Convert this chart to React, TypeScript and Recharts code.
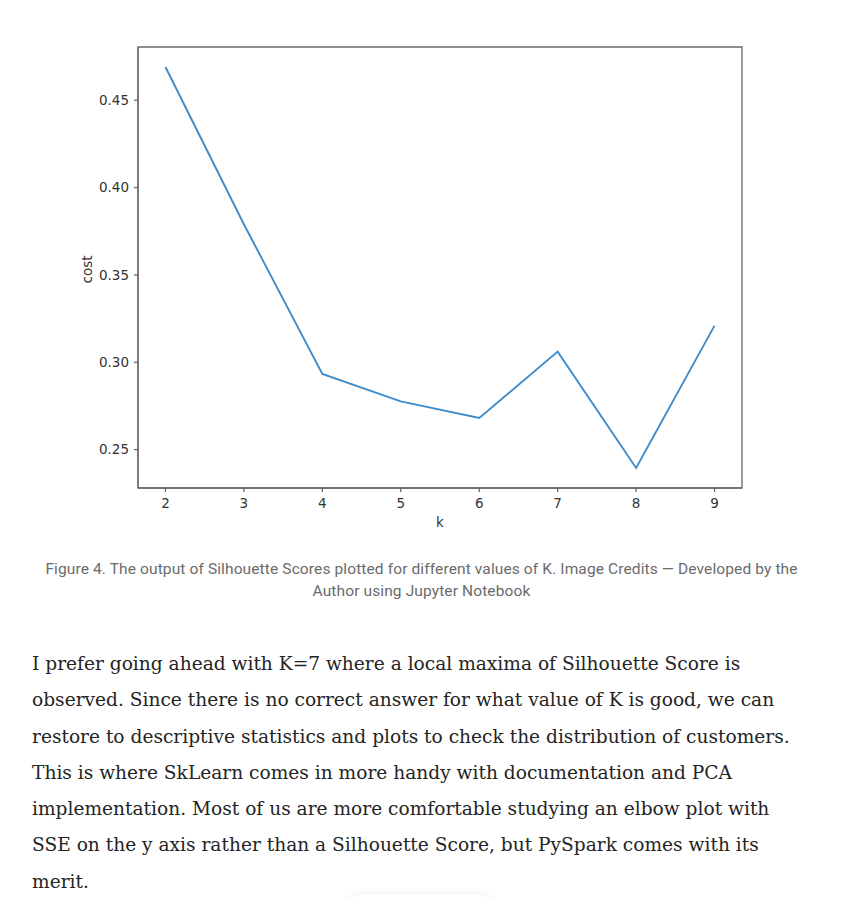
import React from 'react';
import { LineChart, Line, XAxis, YAxis, ReferenceArea } from 'recharts';

const kValues = [2, 3, 4, 5, 6, 7, 8, 9];
const scores = [0.469, 0.379, 0.2933, 0.2776, 0.2681, 0.3061, 0.2395, 0.321];
const yTicks = [0.25, 0.3, 0.35, 0.4, 0.45];
const xTicks = [2, 3, 4, 5, 6, 7, 8, 9];

const captionLines = [
  'Figure 4. The output of Silhouette Scores plotted for different values of K. Image Credits \u2014 Developed by the',
  'Author using Jupyter Notebook',
];

const paragraphLines = [
  'I prefer going ahead with K=7 where a local maxima of Silhouette Score is',
  'observed. Since there is no correct answer for what value of K is good, we can',
  'restore to descriptive statistics and plots to check the distribution of customers.',
  'This is where SkLearn comes in more handy with documentation and PCA',
  'implementation. Most of us are more comfortable studying an elbow plot with',
  'SSE on the y axis rather than a Silhouette Score, but PySpark comes with its',
  'merit.',
];

const data = kValues.map((k, i) => ({ k, score: scores[i] }));

const pad = (lo: number, hi: number): [number, number] => {
  const r = hi - lo;
  return [lo - 0.05 * r, hi + 0.05 * r];
};
const xDomain = pad(Math.min(...kValues), Math.max(...kValues));
const yDomain = pad(Math.min(...scores), Math.max(...scores));

const SPINE = '#6a6a6a';
const TICK_TEXT = { fill: '#333', fontSize: 13.5, fontFamily: 'DejaVu Sans' };

export default function App() {
  return (
    <div
      style={{
        position: 'relative',
        width: 843,
        height: 906,
        margin: -8,
        background: '#fff',
        overflow: 'hidden',
      }}
    >
      <div style={{ position: 'absolute', left: 0, top: 0 }}>
        <LineChart
          width={760}
          height={540}
          data={data}
          margin={{ top: 47, left: 78, right: 18, bottom: 22 }}
        >
          <ReferenceArea
            x1={xDomain[0]}
            x2={xDomain[1]}
            y1={yDomain[0]}
            y2={yDomain[1]}
            fill="none"
            fillOpacity={0}
            stroke={SPINE}
            strokeWidth={1.3}
            ifOverflow="visible"
          />
          <XAxis
            dataKey="k"
            type="number"
            domain={xDomain}
            ticks={xTicks}
            allowDataOverflow
            height={30}
            tickSize={4}
            tickMargin={6}
            stroke={SPINE}
            strokeWidth={1.3}
            tick={TICK_TEXT}
            label={(props: any) => {
              const vb = props.viewBox;
              return (
                <text
                  x={vb.x + vb.width / 2}
                  y={vb.y + 39}
                  textAnchor="middle"
                  fill="#333"
                  fontSize={13.5}
                  fontFamily="DejaVu Sans"
                >
                  k
                </text>
              );
            }}
          />
          <YAxis
            type="number"
            domain={yDomain}
            ticks={yTicks}
            allowDataOverflow
            width={60}
            tickSize={4}
            tickMargin={5}
            stroke={SPINE}
            strokeWidth={1.3}
            tick={TICK_TEXT}
            tickFormatter={(v: number) => v.toFixed(2)}
            label={(props: any) => {
              const vb = props.viewBox;
              const x = vb.x + 9;
              const y = vb.y + vb.height / 2 + 2;
              return (
                <text
                  x={x}
                  y={y}
                  transform={`rotate(-90, ${x}, ${y})`}
                  textAnchor="middle"
                  dominantBaseline="central"
                  fill="#333"
                  fontSize={13.5}
                  fontFamily="DejaVu Sans"
                >
                  cost
                </text>
              );
            }}
          />
          <Line
            type="linear"
            dataKey="score"
            stroke="#3f8ccb"
            strokeWidth={1.9}
            dot={false}
            activeDot={false}
            isAnimationActive={false}
          />
        </LineChart>
      </div>

      <div
        style={{
          position: 'absolute',
          left: 0,
          top: 558,
          width: 843,
          textAlign: 'center',
          fontFamily: 'Roboto',
          fontSize: 15.5,
          letterSpacing: '0.12px',
          lineHeight: '22px',
          color: '#6b6b6b',
        }}
      >
        {captionLines.map((l, i) => (
          <div key={i} style={{ whiteSpace: 'nowrap' }}>
            {l}
          </div>
        ))}
      </div>

      <div
        style={{
          position: 'absolute',
          left: 32,
          top: 646,
          fontFamily: '"DejaVu Serif"',
          fontSize: 18.6,
          lineHeight: '36.3px',
          color: '#242424',
        }}
      >
        {paragraphLines.map((l, i) => (
          <div key={i} style={{ whiteSpace: 'nowrap' }}>
            {l}
          </div>
        ))}
      </div>

      <div
        style={{
          position: 'absolute',
          left: 343,
          top: 894,
          width: 155,
          height: 44,
          borderRadius: 22,
          background: '#fff',
          boxShadow: '0 2px 10px rgba(0,0,0,0.12)',
        }}
      />

      <div
        style={{
          position: 'absolute',
          left: 841,
          top: 0,
          width: 2,
          height: 906,
          background: '#5a5a5a',
        }}
      />
    </div>
  );
}
